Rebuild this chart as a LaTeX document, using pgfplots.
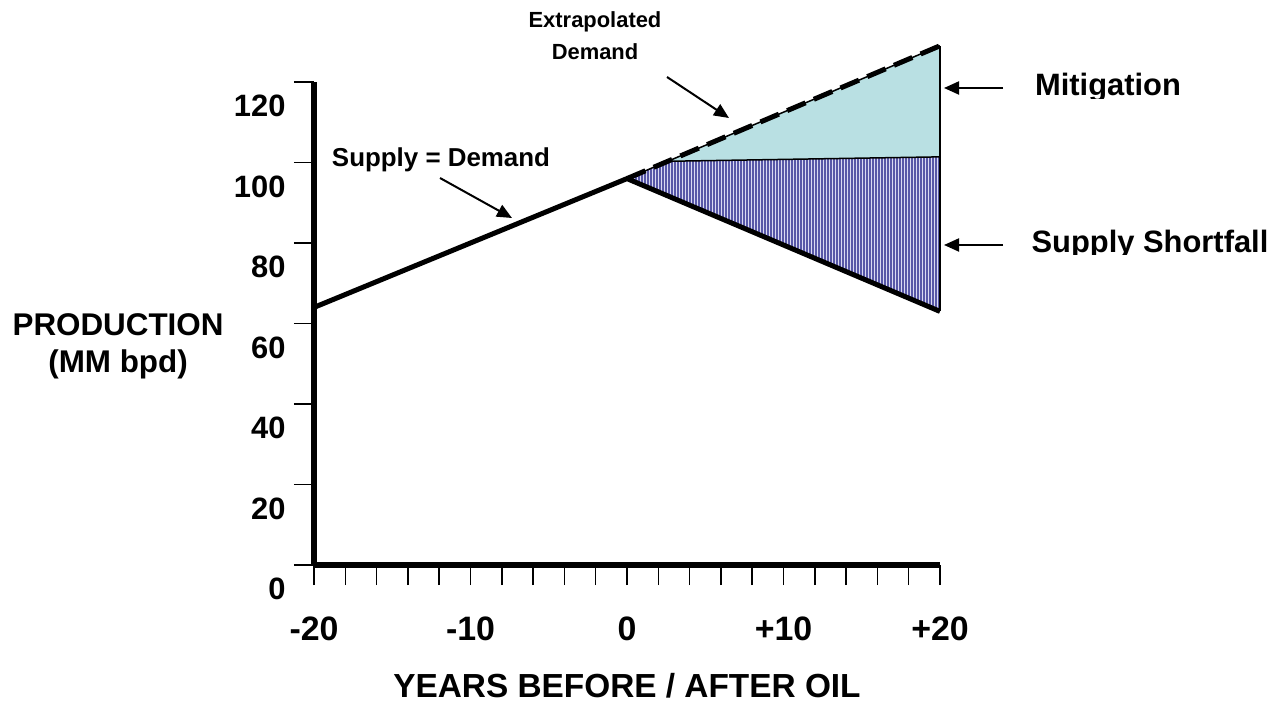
\documentclass[border=0pt]{standalone}
\usepackage{pgfplots}
\pgfplotsset{compat=1.18}
\usepackage{fontspec}
\setmainfont{Liberation Sans}
\usetikzlibrary{patterns.meta,arrows.meta}

\definecolor{mitig}{RGB}{185,224,227}
\definecolor{stripe}{RGB}{88,88,168}
\definecolor{stripebg}{RGB}{218,218,242}

\newcommand{\fs}[1]{\fontsize{#1}{#1}\selectfont\bfseries}

\begin{document}
\begin{tikzpicture}[>={Triangle[length=15bp,width=13bp]}]
\path[use as bounding box] (0,0) rectangle (1284bp,702bp);

\begin{axis}[
  at={(314bp,137bp)}, anchor=south west,
  scale only axis, width=626bp, height=483bp,
  xmin=-20, xmax=20, ymin=0, ymax=120,
  clip=false,
  axis lines=left,
  axis line style={-, line width=5bp},
  tick align=outside,
  major tick length=20bp, minor tick length=20bp,
  tick style={line width=1.5bp, black},
  xtick={-20,-10,0,10,20},
  minor xtick={-18,-16,-14,-12,-8,-6,-4,-2,2,4,6,8,12,14,16,18},
  xticklabels={-20,\raisebox{-6bp}{-10},0,+10,+20},
  xticklabel style={font=\fs{34}, yshift=-28bp},
  ytick={0,20,...,120},
  yticklabels={0,20,40,60,80,100,120},
  yticklabel style={font=\fs{31}, yshift=-24bp, xshift=-5bp},
  xlabel={YEARS BEFORE / AFTER OIL},
  xlabel style={at={(axis description cs:0.5,-0.2733)}, anchor=base, font=\fs{33.5}},
  ylabel={PRODUCTION\\(MM bpd)},
  ylabel style={rotate=-90, at={(axis description cs:-0.313,0.453)}, anchor=center, align=center, font=\fontsize{31.5}{37}\selectfont\bfseries},
]
% mitigation wedge
\addplot[fill=mitig, draw=none] coordinates {(2.6,100.3) (20,129) (20,101.4)};
% supply shortfall wedge (striped)
\addplot[fill=stripebg, draw=none] coordinates {(0,96) (2.6,100.3) (20,101.4) (20,63)};
\addplot[pattern={Lines[angle=90,distance=3bp,line width=1.6bp]}, pattern color=stripe, draw=none] coordinates {(0,96) (2.6,100.3) (20,101.4) (20,63)};
% thin outlines
\addplot[black, line width=1.5bp] coordinates {(2.6,100.3) (20,101.4)};
\addplot[black, line width=1.5bp] coordinates {(20,63) (20,129)};
\addplot[black, line width=1.5bp] coordinates {(0,96) (20,129)};
% extrapolated demand
\addplot[black, line width=5bp, dash pattern=on 20bp off 9bp] coordinates {(0,96) (20,129)};
% supply = demand, then decline
\addplot[black, line width=5bp, line join=miter] coordinates {(-20,64) (0,96) (20,63)};
\end{axis}

% annotations
\node[align=center, font=\fontsize{22}{32}\selectfont\bfseries] at (595bp,666bp) {Extrapolated\\Demand};
\draw[->, line width=2bp] (667bp,625bp) -- (729bp,584bp);
\node[font=\fs{26}] at (441bp,542bp) {Supply = Demand};
\draw[->, line width=2bp] (440bp,524bp) -- (512bp,484bp);
% the two right-hand labels are cut just below the baseline, as in the source
\begin{scope}
\clip (1010bp,603bp) rectangle (1284bp,650bp);
\node[font=\fs{31}] at (1108bp,614bp) {Mitigation};
\end{scope}
\draw[->, line width=2bp] (1003bp,614bp) -- (944bp,614bp);
\begin{scope}
\clip (1010bp,447bp) rectangle (1284bp,490bp);
\node[font=\fs{31}] at (1150bp,457bp) {Supply Shortfall};
\end{scope}
\draw[->, line width=2bp] (1003bp,457bp) -- (944bp,457bp);
\end{tikzpicture}
\end{document}
